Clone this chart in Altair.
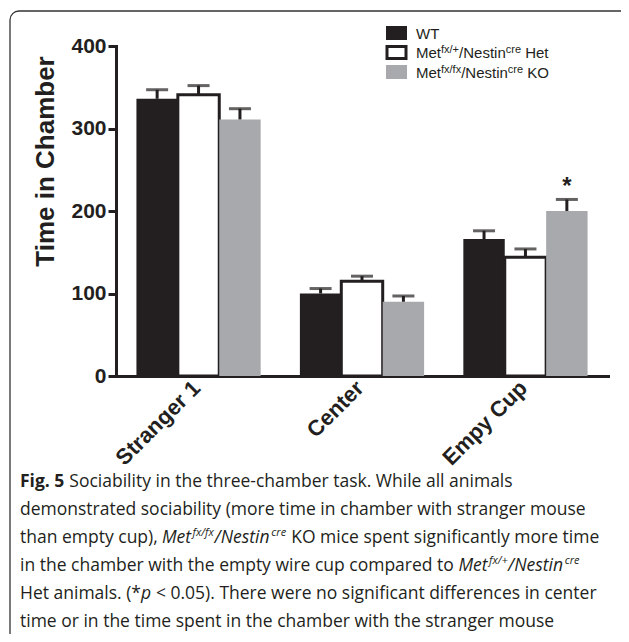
import altair as alt
import pandas as pd

# ---------------- data ----------------
categories = ["Stranger 1", "Center", "Empy Cup"]
groups = ["WT", "Het", "KO"]
wt_mean = [336, 100, 166]
het_mean = [341, 115, 144]
ko_mean = [311, 90, 200]
wt_sem = [11, 6, 10]
het_sem = [11, 6, 10]
ko_sem = [13, 7, 14]
ko_sig = ["", "", "*"]
y_ticks = [0, 100, 200, 300, 400]
y_title = "Time in Chamber"

rows = []
for g, m, s in zip(groups, [wt_mean, het_mean, ko_mean], [wt_sem, het_sem, ko_sem]):
    for i, c in enumerate(categories):
        rows.append({"cat": c, "grp": g, "mean": m[i], "sem": s[i],
                     "star": ko_sig[i] if g == "KO" else ""})
df = pd.DataFrame(rows)

# ---------------- style ----------------
INK = "#231f20"
FILLS = ["#231f20", "#ffffff", "#a7a9ac"]
AX_FONT = "Liberation Sans"
CAP_FONT = "Open Sans"

X = alt.X("cat:N", sort=categories, title=None,
          scale=alt.Scale(domain=categories, paddingInner=0.24, paddingOuter=0.125),
          axis=alt.Axis(ticks=False, labelAngle=315, labelAlign="right", labelBaseline="top",
                        labelFont=AX_FONT, labelFontSize=22, labelFontWeight="bold",
                        labelColor=INK, labelPadding=1, labelOffset=-9,
                        domainColor=INK, domainWidth=3, domainCap="square"))
XO = alt.XOffset("grp:N", sort=groups,
                 scale=alt.Scale(domain=groups, paddingInner=0, paddingOuter=0))

base = alt.Chart(df).transform_calculate(top="datum.mean + datum.sem").encode(x=X, xOffset=XO)

bars = base.mark_bar(strokeWidth=3).encode(
    y=alt.Y("mean:Q", scale=alt.Scale(domain=[0, 400], nice=False),
            axis=alt.Axis(values=y_ticks, grid=False, title=y_title,
                          domainColor=INK, domainWidth=3, domainCap="square",
                          tickColor=INK, tickWidth=3, tickSize=8,
                          labelFont=AX_FONT, labelFontSize=21, labelFontWeight="bold",
                          labelColor=INK, labelPadding=2,
                          titleFont=AX_FONT, titleFontSize=26, titleFontWeight="bold",
                          titleColor=INK, titleX=-63, titleY=115, titleAngle=270,
                          titleAlign="center", titleBaseline="alphabetic")),
    fill=alt.Fill("grp:N", scale=alt.Scale(domain=groups, range=FILLS), legend=None),
    stroke=alt.condition("datum.grp == 'Het'", alt.value(INK), alt.value("transparent")),
)

stems = base.mark_rule(strokeWidth=3, color=INK).encode(
    y=alt.Y("mean:Q", title=y_title), y2="top:Q")
caps = base.mark_tick(size=22, thickness=3, color=INK).encode(
    y=alt.Y("top:Q", title=y_title))
stars = base.transform_filter("datum.star != ''").mark_text(
    font=AX_FONT, fontSize=24, fontWeight="bold", dy=-12, baseline="middle", color=INK
).encode(y=alt.Y("top:Q", title=y_title), text="star:N")

# ---------------- text helpers ----------------
dummy = pd.DataFrame({"k": [0]})

AR_W = {"M": 833, "e": 556, "t": 278, "f": 278, "x": 500, "/": 278, "+": 584, "N": 722,
        "s": 500, "i": 222, "n": 556, "c": 500, "r": 333, " ": 278, "H": 722, "K": 667,
        "O": 778, "W": 944, "T": 611}
OS_W = {" ": 532, "(": 596, ")": 596, "*": 1128, ",": 500, ".": 545, "/": 752, "+": 1171,
        "<": 1171, "0": 1171, "5": 1171, "F": 1057, "H": 1511, "M": 1849, "N": 1544,
        "S": 1124, "T": 1139, "W": 1896, "K": 1257, "O": 1595,
        "a": 1139, "b": 1255, "c": 975, "d": 1255, "e": 1149, "f": 694, "g": 1122,
        "h": 1257, "i": 518, "k": 1075, "l": 518, "m": 1905, "n": 1257, "o": 1237,
        "p": 1255, "r": 836, "s": 977, "t": 723, "u": 1257, "v": 1026, "w": 1593,
        "x": 1073, "y": 1028}


def w_ar(s, size):
    return sum(AR_W.get(ch, 556) for ch in s) * size / 1000.0


def w_os(s, size, k=1.0):
    return sum(OS_W.get(ch, 1100) for ch in s) * size / 2048.0 * k


layers = []


def txt(x, y, s, font, size, weight="normal", style="normal"):
    layers.append(alt.Chart(dummy).mark_text(
        font=font, fontSize=size, fontWeight=weight, fontStyle=style,
        align="left", baseline="alphabetic", color=INK
    ).encode(x=alt.value(x), y=alt.value(y), text=alt.value(s)))


def box(x, x2, y, y2, fill, stroke="transparent", sw=0, radius=0, opacity=1):
    layers.append(alt.Chart(dummy).mark_rect(
        fill=fill, fillOpacity=opacity, stroke=stroke, strokeWidth=sw, cornerRadius=radius
    ).encode(x=alt.value(x), x2=alt.value(x2), y=alt.value(y), y2=alt.value(y2)))


# frame (right and bottom edges lie outside the picture, as in the reference)
box(-106, 514, -35, 660, "white", stroke="#333333", sw=1.3, radius=9, opacity=0)

# legend
LX0, LX1, LT = 270, 291, 300
LS, SS, RAISE = 15, 11, 5
leg_rows = [(-7.5, "WT", None, None), (12, "Met", "fx/+", "Het"), (31.5, "Met", "fx/fx", "KO")]
for (yb, main, sup, tail), fill in zip(leg_rows, FILLS):
    cy = yb - 5.5
    if fill == "#ffffff":
        box(LX0 + 1, LX1 - 1, cy - 6, cy + 6, fill, stroke=INK, sw=3)
    else:
        box(LX0, LX1, cy - 7, cy + 7, fill)
    if sup is None:
        txt(LT, yb, main, AX_FONT, LS)
        continue
    x = LT
    txt(x, yb, "Met", AX_FONT, LS); x += w_ar("Met", LS)
    txt(x, yb - RAISE, sup, AX_FONT, SS); x += w_ar(sup, SS)
    txt(x, yb, "/Nestin", AX_FONT, LS); x += w_ar("/Nestin", LS)
    txt(x, yb - RAISE, "cre", AX_FONT, SS); x += w_ar("cre", SS) + w_ar(" ", LS)
    txt(x, yb, tail, AX_FONT, LS)

# caption
CX = -96
CS, CSS, CR = 17.5, 11, 7
IT = 0.96
BASE = [441 + 28.0 * i for i in range(6)]

x = CX
txt(x, BASE[0], "Fig. 5", CAP_FONT, CS, weight="bold"); x += w_os("Fig. 5", CS, 1.06) + w_os(" ", CS)
txt(x, BASE[0], "Sociability in the three-chamber task. While all animals", CAP_FONT, CS)

txt(CX, BASE[1], "demonstrated sociability (more time in chamber with stranger mouse", CAP_FONT, CS)


def met_nestin(x, y, sup):
    txt(x, y, "Met", CAP_FONT, CS, style="italic"); x += w_os("Met", CS, IT)
    txt(x, y - CR, sup, CAP_FONT, CSS, style="italic"); x += w_os(sup, CSS, IT)
    txt(x, y, "/Nestin", CAP_FONT, CS, style="italic"); x += w_os("/Nestin", CS, IT)
    txt(x, y - CR, "cre", CAP_FONT, CSS, style="italic"); x += w_os("cre", CSS, IT)
    return x


txt(CX, BASE[2], "than empty cup),", CAP_FONT, CS)
x = CX + w_os("than empty cup), ", CS)
x = met_nestin(x, BASE[2], "fx/fx") + w_os(" ", CS)
txt(x, BASE[2], "KO mice spent significantly more time", CAP_FONT, CS)

txt(CX, BASE[3], "in the chamber with the empty wire cup compared to", CAP_FONT, CS)
x = CX + w_os("in the chamber with the empty wire cup compared to ", CS)
met_nestin(x, BASE[3], "fx/+")

txt(CX, BASE[4], "Het animals. (*", CAP_FONT, CS)
x = CX + w_os("Het animals. (*", CS)
txt(x, BASE[4], "p", CAP_FONT, CS, style="italic"); x += w_os("p", CS, IT) + w_os(" ", CS)
txt(x, BASE[4], "< 0.05). There were no significant differences in center", CAP_FONT, CS)

txt(CX, BASE[5], "time or in the time spent in the chamber with the stranger mouse", CAP_FONT, CS)

chart = alt.layer(bars, stems, caps, stars, *layers).properties(
    width=492, height=330,
    padding={"left": 108, "top": 38, "right": 13, "bottom": 258},
    autosize=alt.AutoSizeParams(type="none"),
    background="white",
).configure_view(strokeWidth=0)

chart.save("out.html", embed_options={"renderer": "svg", "actions": False})
